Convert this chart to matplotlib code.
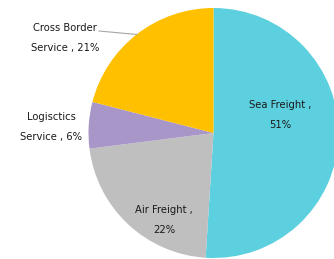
import matplotlib
matplotlib.use("Agg")
import matplotlib.pyplot as plt

# Shipping mix (percent), clockwise from 12 o'clock
categories = ["Sea Freight", "Air Freight", "Logisctics\nService", "Cross Border\nService"]
shares = [51, 22, 6, 21]
colors = ["#5dd0df", "#bfbfbf", "#a896c8", "#ffc000"]

W, H = 334, 259
fig = plt.figure(figsize=(W / 100, H / 100), dpi=100)
ax = fig.add_axes([0, 0, 1, 1])

cx, cy, r = 213.5, H - 133, 125
ax.pie(shares, colors=colors, startangle=90, counterclock=False,
       center=(cx, cy), radius=r, frame=True,
       wedgeprops=dict(linewidth=0))
ax.set_xlim(0, W)
ax.set_ylim(0, H)
ax.axis("off")

# label positions in pixel space (x, y from top)
label_pos = [(280, 115), (164, 220), (51, 127), (65, 38)]
label_text = ["Sea Freight ,\n{}%", "Air Freight ,\n{}%", "Logisctics\nService , {}%", "Cross Border\nService , {}%"]
for (x, y), t, v in zip(label_pos, label_text, shares):
    ax.text(x, H - y, t.format(v), ha="center", va="center", fontsize=7.2,
            color="#1a1a1a", linespacing=2.2, family="DejaVu Sans")

# leader line for Cross Border
ax.plot([99, 137], [H - 31, H - 34.5], color="#a6a6a6", linewidth=0.8)

fig.savefig("out.png", dpi=100, facecolor="white")
